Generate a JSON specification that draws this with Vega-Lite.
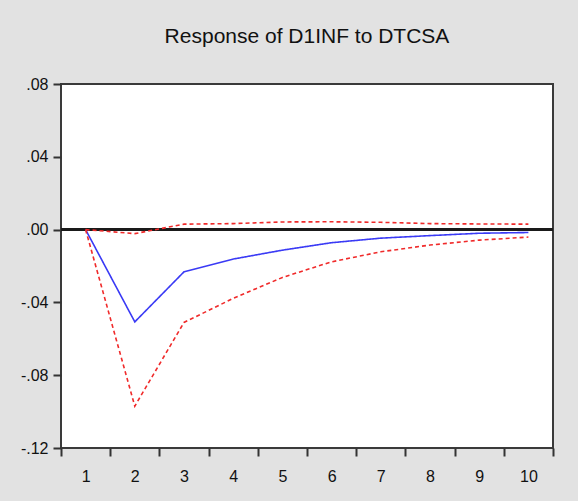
{
  "$schema": "https://vega.github.io/schema/vega-lite/v6.json",
  "width": 492,
  "height": 364,
  "autosize": {"type": "none"},
  "padding": {"left": 61, "top": 84, "right": 25, "bottom": 53},
  "background": "#e2e2e2",
  "view": {"fill": "white", "stroke": "#3a3a3a", "strokeWidth": 2},
  "title": {
    "text": "Response of D1INF to DTCSA",
    "font": "Liberation Sans Narrow, Liberation Sans, Arial",
    "fontSize": 21,
    "fontWeight": "normal",
    "color": "#111",
    "anchor": "middle",
    "offset": 29
  },
  "data": {
    "values": [
      {"period": 1, "series": "response", "value": 0},
      {"period": 2, "series": "response", "value": -0.0507},
      {"period": 3, "series": "response", "value": -0.0232},
      {"period": 4, "series": "response", "value": -0.0162},
      {"period": 5, "series": "response", "value": -0.0113},
      {"period": 6, "series": "response", "value": -0.0072},
      {"period": 7, "series": "response", "value": -0.0047},
      {"period": 8, "series": "response", "value": -0.0033},
      {"period": 9, "series": "response", "value": -0.0020},
      {"period": 10, "series": "response", "value": -0.0016},
      {"period": 1, "series": "upper", "value": 0},
      {"period": 2, "series": "upper", "value": -0.0022},
      {"period": 3, "series": "upper", "value": 0.0030},
      {"period": 4, "series": "upper", "value": 0.0033},
      {"period": 5, "series": "upper", "value": 0.0042},
      {"period": 6, "series": "upper", "value": 0.0043},
      {"period": 7, "series": "upper", "value": 0.0040},
      {"period": 8, "series": "upper", "value": 0.0033},
      {"period": 9, "series": "upper", "value": 0.0031},
      {"period": 10, "series": "upper", "value": 0.0030},
      {"period": 1, "series": "lower", "value": 0},
      {"period": 2, "series": "lower", "value": -0.0970},
      {"period": 3, "series": "lower", "value": -0.0510},
      {"period": 4, "series": "lower", "value": -0.0378},
      {"period": 5, "series": "lower", "value": -0.0263},
      {"period": 6, "series": "lower", "value": -0.0177},
      {"period": 7, "series": "lower", "value": -0.0122},
      {"period": 8, "series": "lower", "value": -0.0085},
      {"period": 9, "series": "lower", "value": -0.0058},
      {"period": 10, "series": "lower", "value": -0.0041}
    ]
  },
  "encoding": {
    "x": {
      "field": "period",
      "type": "ordinal",
      "bandPosition": 0.5,
      "scale": {"type": "band", "paddingInner": 0, "paddingOuter": 0},
      "axis": {
        "title": null,
        "domain": false,
        "tickBand": "extent",
        "tickSize": 8,
        "tickWidth": 2,
        "tickColor": "#333",
        "labelAngle": 0,
        "labelPadding": 12,
        "labelFont": "Liberation Sans Narrow, Liberation Sans, Arial",
        "labelFontSize": 16,
        "labelColor": "#111"
      }
    },
    "y": {
      "field": "value",
      "type": "quantitative",
      "scale": {"domain": [-0.12, 0.08], "nice": false, "zero": false},
      "axis": {
        "title": null,
        "domain": false,
        "grid": false,
        "values": [-0.12, -0.08, -0.04, 0, 0.04, 0.08],
        "labelExpr": "replace(replace(format(datum.value, '.2f'), '0.', '.'), '\u2212', '-')",
        "tickSize": 8,
        "tickWidth": 2,
        "tickColor": "#333",
        "labelPadding": 5,
        "labelFont": "Liberation Sans Narrow, Liberation Sans, Arial",
        "labelFontSize": 16,
        "labelColor": "#111"
      }
    }
  },
  "layer": [
    {
      "mark": {"type": "rule", "color": "#1a1a1a", "strokeWidth": 2},
      "encoding": {"y": {"datum": 0}, "x": null}
    },
    {
      "mark": {"type": "line", "strokeWidth": 1.6},
      "encoding": {
        "color": {
          "field": "series",
          "type": "nominal",
          "scale": {"domain": ["response", "upper", "lower"], "range": ["#3a3af5", "#f02a2a", "#f02a2a"]},
          "legend": null
        },
        "strokeDash": {
          "field": "series",
          "type": "nominal",
          "scale": {"domain": ["response", "upper", "lower"], "range": [[1, 0], [4, 3], [4, 3]]},
          "legend": null
        }
      }
    }
  ]
}
